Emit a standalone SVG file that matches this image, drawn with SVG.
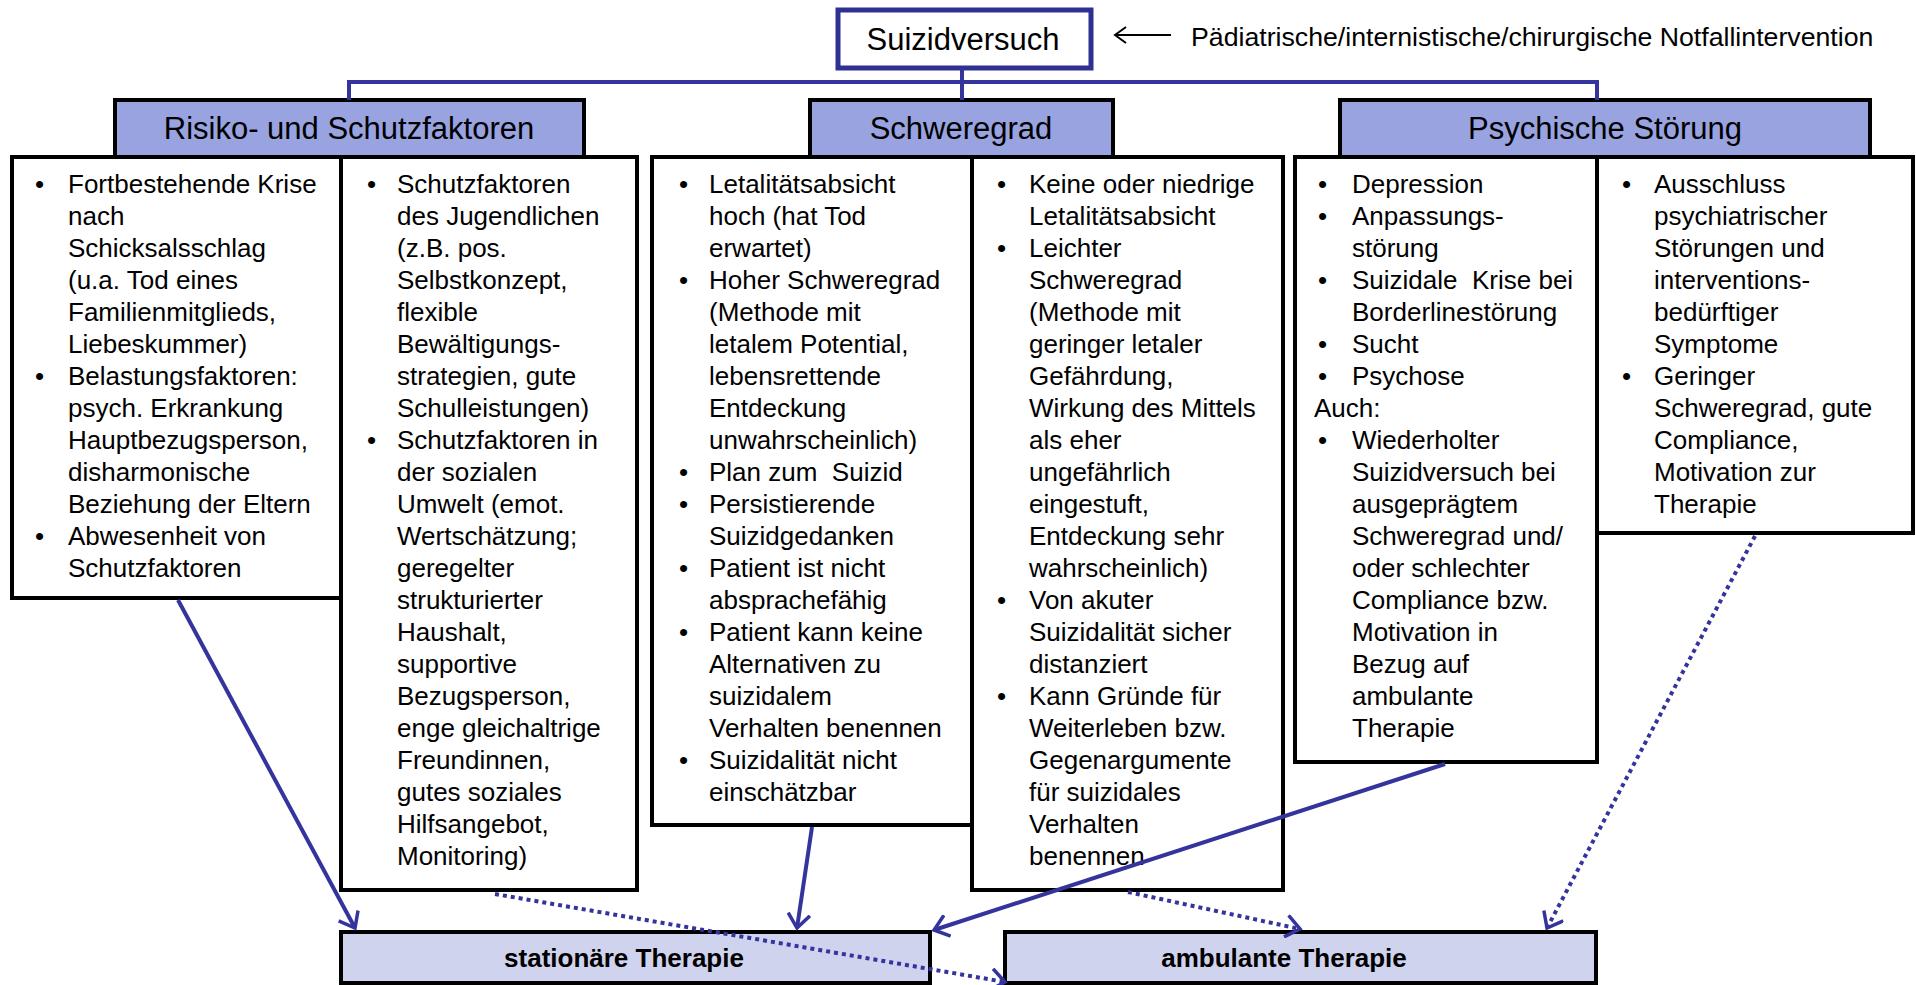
<svg xmlns="http://www.w3.org/2000/svg" width="1916" height="985" viewBox="0 0 1916 985">
<style>
.t{font-family:"Liberation Sans",Arial,sans-serif;font-size:26px;fill:#000}
.h{font-family:"Liberation Sans",Arial,sans-serif;font-size:31px;fill:#000;text-anchor:middle}
.bl{font-family:"Liberation Sans",Arial,sans-serif;font-size:26px;font-weight:bold;fill:#000;text-anchor:middle}
.box{fill:#fff;stroke:#000;stroke-width:4}
.hdr{fill:#98A3E0;stroke:#000;stroke-width:4}
.res{fill:#D0D3EE;stroke:#000;stroke-width:4}
.con{stroke:#34349C;stroke-width:4;fill:none}
.dot{stroke-dasharray:4 4}
</style>
<defs>
<marker id="ah" markerUnits="userSpaceOnUse" viewBox="0 0 18 24" markerWidth="18" markerHeight="24" refX="15" refY="12" orient="auto">
<path d="M1,1 L15,12 L1,23" fill="none" stroke="#34349C" stroke-width="3.5"/>
</marker>
<marker id="ahk" markerUnits="userSpaceOnUse" viewBox="0 0 14 18" markerWidth="14" markerHeight="18" refX="12" refY="9" orient="auto">
<path d="M1,1 L12,9 L1,17" fill="none" stroke="#000" stroke-width="2"/>
</marker>
</defs>
<rect width="1916" height="985" fill="#fff"/>

<g id="suizidversuch">
<rect x="838" y="10" width="253" height="58" fill="#fff" stroke="#2E3192" stroke-width="5"/>
<text class="h" x="963" y="50">Suizidversuch</text>
</g>
<g id="notfall">
<text class="t" x="1191" y="46" style="font-size:26.7px">Pädiatrische/internistische/chirurgische Notfallintervention</text>
</g>

<g id="hdr-risiko">
<rect class="hdr" x="115" y="100" width="469" height="57"/>
<text class="h" x="349" y="139">Risiko- und Schutzfaktoren</text>
</g>
<g id="hdr-schweregrad">
<rect class="hdr" x="810" y="100" width="303" height="57"/>
<text class="h" x="961" y="139">Schweregrad</text>
</g>
<g id="hdr-psych">
<rect class="hdr" x="1340" y="100" width="530" height="57"/>
<text class="h" x="1605" y="139">Psychische Störung</text>
</g>

<g id="box-a1">
<rect class="box" x="12" y="157" width="329" height="441"/>
<text class="t"><tspan x="35" y="193">•</tspan><tspan x="35" y="385">•</tspan><tspan x="35" y="545">•</tspan></text>
<text class="t">
<tspan x="68" y="193">Fortbestehende Krise</tspan>
<tspan x="68" y="225">nach</tspan>
<tspan x="68" y="257">Schicksalsschlag</tspan>
<tspan x="68" y="289">(u.a. Tod eines</tspan>
<tspan x="68" y="321">Familienmitglieds,</tspan>
<tspan x="68" y="353">Liebeskummer)</tspan>
<tspan x="68" y="385">Belastungsfaktoren:</tspan>
<tspan x="68" y="417">psych. Erkrankung</tspan>
<tspan x="68" y="449">Hauptbezugsperson,</tspan>
<tspan x="68" y="481">disharmonische</tspan>
<tspan x="68" y="513">Beziehung der Eltern</tspan>
<tspan x="68" y="545">Abwesenheit von</tspan>
<tspan x="68" y="577">Schutzfaktoren</tspan>
</text>
</g>

<g id="box-a2">
<rect class="box" x="341" y="157" width="296" height="733"/>
<text class="t"><tspan x="367" y="193">•</tspan><tspan x="367" y="449">•</tspan></text>
<text class="t">
<tspan x="397" y="193">Schutzfaktoren</tspan>
<tspan x="397" y="225">des Jugendlichen</tspan>
<tspan x="397" y="257">(z.B. pos.</tspan>
<tspan x="397" y="289">Selbstkonzept,</tspan>
<tspan x="397" y="321">flexible</tspan>
<tspan x="397" y="353">Bewältigungs-</tspan>
<tspan x="397" y="385">strategien, gute</tspan>
<tspan x="397" y="417">Schulleistungen)</tspan>
<tspan x="397" y="449">Schutzfaktoren in</tspan>
<tspan x="397" y="481">der sozialen</tspan>
<tspan x="397" y="513">Umwelt (emot.</tspan>
<tspan x="397" y="545">Wertschätzung;</tspan>
<tspan x="397" y="577">geregelter</tspan>
<tspan x="397" y="609">strukturierter</tspan>
<tspan x="397" y="641">Haushalt,</tspan>
<tspan x="397" y="673">supportive</tspan>
<tspan x="397" y="705">Bezugsperson,</tspan>
<tspan x="397" y="737">enge gleichaltrige</tspan>
<tspan x="397" y="769">Freundinnen,</tspan>
<tspan x="397" y="801">gutes soziales</tspan>
<tspan x="397" y="833">Hilfsangebot,</tspan>
<tspan x="397" y="865">Monitoring)</tspan>
</text>
</g>

<g id="box-b1">
<rect class="box" x="652" y="157" width="320" height="668"/>
<text class="t"><tspan x="679" y="193">•</tspan><tspan x="679" y="289">•</tspan><tspan x="679" y="481">•</tspan><tspan x="679" y="513">•</tspan><tspan x="679" y="577">•</tspan><tspan x="679" y="641">•</tspan><tspan x="679" y="769">•</tspan></text>
<text class="t">
<tspan x="709" y="193">Letalitätsabsicht</tspan>
<tspan x="709" y="225">hoch (hat Tod</tspan>
<tspan x="709" y="257">erwartet)</tspan>
<tspan x="709" y="289">Hoher Schweregrad</tspan>
<tspan x="709" y="321">(Methode mit</tspan>
<tspan x="709" y="353">letalem Potential,</tspan>
<tspan x="709" y="385">lebensrettende</tspan>
<tspan x="709" y="417">Entdeckung</tspan>
<tspan x="709" y="449">unwahrscheinlich)</tspan>
<tspan x="709" y="481">Plan zum&#160; Suizid</tspan>
<tspan x="709" y="513">Persistierende</tspan>
<tspan x="709" y="545">Suizidgedanken</tspan>
<tspan x="709" y="577">Patient ist nicht</tspan>
<tspan x="709" y="609">absprachefähig</tspan>
<tspan x="709" y="641">Patient kann keine</tspan>
<tspan x="709" y="673">Alternativen zu</tspan>
<tspan x="709" y="705">suizidalem</tspan>
<tspan x="709" y="737">Verhalten benennen</tspan>
<tspan x="709" y="769">Suizidalität nicht</tspan>
<tspan x="709" y="801">einschätzbar</tspan>
</text>
</g>

<g id="box-b2">
<rect class="box" x="972" y="157" width="311" height="733"/>
<text class="t"><tspan x="997" y="193">•</tspan><tspan x="997" y="257">•</tspan><tspan x="997" y="609">•</tspan><tspan x="997" y="705">•</tspan></text>
<text class="t">
<tspan x="1029" y="193">Keine oder niedrige</tspan>
<tspan x="1029" y="225">Letalitätsabsicht</tspan>
<tspan x="1029" y="257">Leichter</tspan>
<tspan x="1029" y="289">Schweregrad</tspan>
<tspan x="1029" y="321">(Methode mit</tspan>
<tspan x="1029" y="353">geringer letaler</tspan>
<tspan x="1029" y="385">Gefährdung,</tspan>
<tspan x="1029" y="417">Wirkung des Mittels</tspan>
<tspan x="1029" y="449">als eher</tspan>
<tspan x="1029" y="481">ungefährlich</tspan>
<tspan x="1029" y="513">eingestuft,</tspan>
<tspan x="1029" y="545">Entdeckung sehr</tspan>
<tspan x="1029" y="577">wahrscheinlich)</tspan>
<tspan x="1029" y="609">Von akuter</tspan>
<tspan x="1029" y="641">Suizidalität sicher</tspan>
<tspan x="1029" y="673">distanziert</tspan>
<tspan x="1029" y="705">Kann Gründe für</tspan>
<tspan x="1029" y="737">Weiterleben bzw.</tspan>
<tspan x="1029" y="769">Gegenargumente</tspan>
<tspan x="1029" y="801">für suizidales</tspan>
<tspan x="1029" y="833">Verhalten</tspan>
<tspan x="1029" y="865">benennen</tspan>
</text>
</g>

<g id="box-c1">
<rect class="box" x="1295" y="157" width="302" height="605"/>
<text class="t"><tspan x="1318" y="193">•</tspan><tspan x="1318" y="225">•</tspan><tspan x="1318" y="289">•</tspan><tspan x="1318" y="353">•</tspan><tspan x="1318" y="385">•</tspan><tspan x="1318" y="449">•</tspan></text>
<text class="t">
<tspan x="1352" y="193">Depression</tspan>
<tspan x="1352" y="225">Anpassungs-</tspan>
<tspan x="1352" y="257">störung</tspan>
<tspan x="1352" y="289">Suizidale&#160; Krise bei</tspan>
<tspan x="1352" y="321">Borderlinestörung</tspan>
<tspan x="1352" y="353">Sucht</tspan>
<tspan x="1352" y="385">Psychose</tspan>
<tspan x="1314" y="417">Auch:</tspan>
<tspan x="1352" y="449">Wiederholter</tspan>
<tspan x="1352" y="481">Suizidversuch bei</tspan>
<tspan x="1352" y="513">ausgeprägtem</tspan>
<tspan x="1352" y="545">Schweregrad und/</tspan>
<tspan x="1352" y="577">oder schlechter</tspan>
<tspan x="1352" y="609">Compliance bzw.</tspan>
<tspan x="1352" y="641">Motivation in</tspan>
<tspan x="1352" y="673">Bezug auf</tspan>
<tspan x="1352" y="705">ambulante</tspan>
<tspan x="1352" y="737">Therapie</tspan>
</text>
</g>

<g id="box-c2">
<rect class="box" x="1597" y="157" width="316" height="376"/>
<text class="t"><tspan x="1622" y="193">•</tspan><tspan x="1622" y="385">•</tspan></text>
<text class="t">
<tspan x="1654" y="193">Ausschluss</tspan>
<tspan x="1654" y="225">psychiatrischer</tspan>
<tspan x="1654" y="257">Störungen und</tspan>
<tspan x="1654" y="289">interventions-</tspan>
<tspan x="1654" y="321">bedürftiger</tspan>
<tspan x="1654" y="353">Symptome</tspan>
<tspan x="1654" y="385">Geringer</tspan>
<tspan x="1654" y="417">Schweregrad, gute</tspan>
<tspan x="1654" y="449">Compliance,</tspan>
<tspan x="1654" y="481">Motivation zur</tspan>
<tspan x="1654" y="513">Therapie</tspan>
</text>
</g>

<g id="stationaer">
<rect class="res" x="341" y="932" width="589" height="51"/>
<text class="bl" x="624" y="967">stationäre Therapie</text>
</g>
<g id="ambulant">
<rect class="res" x="1005" y="932" width="591" height="51"/>
<text class="bl" x="1284" y="967">ambulante Therapie</text>
</g>

<g id="connectors">
<path class="con" d="M962,68 V82 M349,100 V82 H1597 V100 M962,82 V100"/>
<line x1="1171" y1="35" x2="1115" y2="35" stroke="#000" stroke-width="2" marker-end="url(#ahk)"/>
<line class="con" x1="178" y1="600" x2="355" y2="928" marker-end="url(#ah)"/>
<line class="con" x1="812" y1="827" x2="797" y2="928" marker-end="url(#ah)"/>
<line class="con" x1="1445" y1="764" x2="934" y2="930" marker-end="url(#ah)"/>
<line class="con dot" x1="495" y1="894" x2="1005" y2="982" marker-end="url(#ah)"/>
<line class="con dot" x1="1128" y1="892" x2="1300" y2="929" marker-end="url(#ah)"/>
<line class="con dot" x1="1755" y1="536" x2="1547" y2="928" marker-end="url(#ah)"/>
</g>
</svg>
